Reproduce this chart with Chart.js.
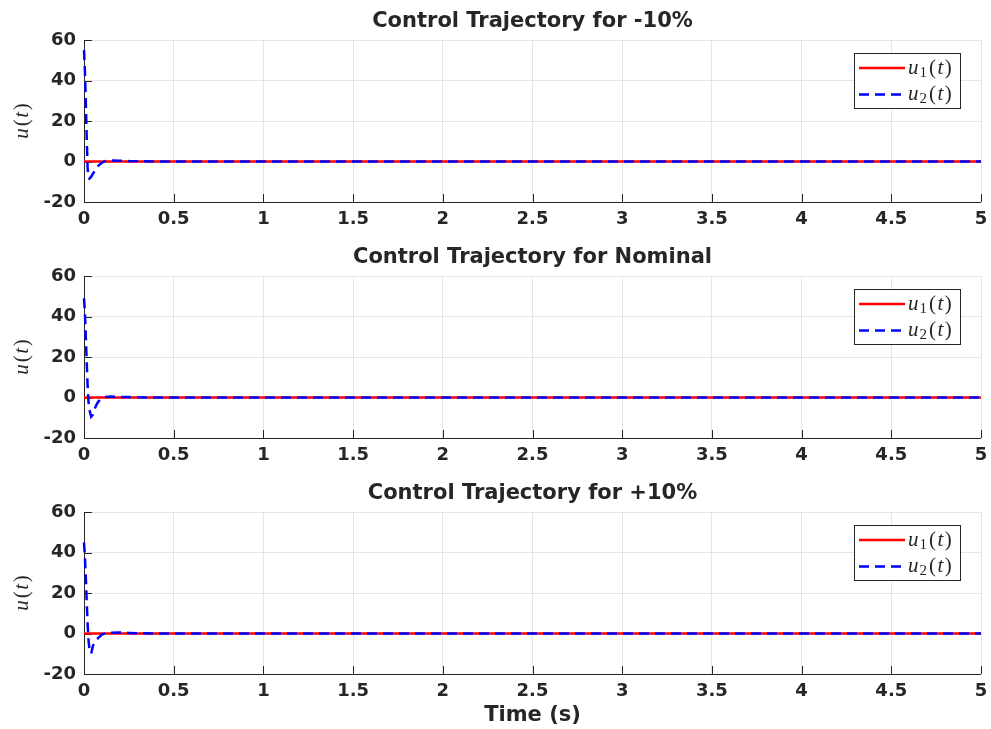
<!DOCTYPE html>
<html><head><meta charset="utf-8">
<script src="https://cdn.jsdelivr.net/npm/chart.js@4/dist/chart.umd.min.js"></script>
<style>
html,body{margin:0;padding:0;background:#fff;width:991px;height:729px;overflow:hidden;}
.p{position:absolute;left:0;width:991px;}
canvas{display:block;}
</style></head><body>
<div class="p" style="top:0;height:236px"><canvas id="c0" width="991" height="236"></canvas></div>
<div class="p" style="top:236px;height:236px"><canvas id="c1" width="991" height="236"></canvas></div>
<div class="p" style="top:472px;height:257px"><canvas id="c2" width="991" height="257"></canvas></div>
<script>
// ---- data ----
const timeS = [0, 0.005, 0.01, 0.015, 0.02, 0.025, 0.03, 0.04, 0.05, 0.06, 0.07, 0.08, 0.1, 0.12, 0.15, 0.2, 0.25, 0.3, 0.4, 0.5, 1, 2, 3, 4, 5];

const u1Minus10 = [0, 0, 0, 0, 0, 0, 0, 0, 0, 0, 0, 0, 0, 0, 0, 0, 0, 0, 0, 0, 0, 0, 0, 0, 0];
const u2Minus10 = [55, 45, 30, 12, -3, -8, -8.5, -7.5, -6, -4.5, -3, -2, -0.6, 0.2, 0.5, 0.4, 0.2, 0.1, 0, 0, 0, 0, 0, 0, 0];

const u1Nominal = [0, 0, 0, 0, 0, 0, 0, 0, 0, 0, 0, 0, 0, 0, 0, 0, 0, 0, 0, 0, 0, 0, 0, 0, 0];
const u2Nominal = [49, 42, 30, 18, 6, -2, -6, -9.5, -8.5, -5.5, -3.5, -2, -0.4, 0.3, 0.5, 0.3, 0.2, 0.1, 0, 0, 0, 0, 0, 0, 0];

const u1Plus10 = [0, 0, 0, 0, 0, 0, 0, 0, 0, 0, 0, 0, 0, 0, 0, 0, 0, 0, 0, 0, 0, 0, 0, 0, 0];
const u2Plus10 = [45, 38, 28, 16, 5, -3, -7.5, -10, -6, -4.5, -3, -2.2, -0.5, 0.1, 0.4, 0.5, 0.3, 0.1, 0, 0, 0, 0, 0, 0, 0];

const panelTitles = ['Control Trajectory for -10%', 'Control Trajectory for Nominal', 'Control Trajectory for +10%'];
const seriesNames = ['u_1(t)', 'u_2(t)'];
const xTickLabels = ['0', '0.5', '1', '1.5', '2', '2.5', '3', '3.5', '4', '4.5', '5'];
const yTickLabels = ['-20', '0', '20', '40', '60'];
const xAxisTitle = 'Time (s)';
const yAxisTitle = 'u(t)';

// ---- styling ----
const SANS = '"DejaVu Sans", Verdana, sans-serif';
const SERIF = '"Liberation Serif", "Times New Roman", serif';
const AXIS_COLOR = '#262626';
const GRID_COLOR = '#e6e6e6';

function pts(ys) { return timeS.map((t, i) => ({ x: t, y: ys[i] })); }

// draws labels like "u_1(t)" math-style; returns width
function drawMath(ctx, text, x, y, size, measureOnly) {
  const m = text.match(/^(\w)(?:_(\w))?\((\w)\)$/);
  const parts = [];
  if (m) {
    parts.push({ t: m[1], f: 'italic ' + size + 'px ' + SERIF, dy: 0 });
    if (m[2]) parts.push({ t: m[2], f: Math.round(size * 0.7) + 'px ' + SERIF, dy: size * 0.22, pad: 1 });
    parts.push({ t: '(', f: size + 'px ' + SERIF, dy: 0, pad: 2 });
    parts.push({ t: m[3], f: 'italic ' + size + 'px ' + SERIF, dy: 0, pad: 1.5 });
    parts.push({ t: ')', f: size + 'px ' + SERIF, dy: 0, pad: 1.5 });
  } else {
    parts.push({ t: text, f: size + 'px ' + SERIF, dy: 0 });
  }
  let cx = x;
  ctx.textBaseline = 'middle';
  ctx.textAlign = 'left';
  for (const p of parts) {
    ctx.font = p.f;
    if (p.pad) cx += p.pad;
    if (!measureOnly) ctx.fillText(p.t, cx, y + p.dy);
    cx += ctx.measureText(p.t).width;
  }
  return cx - x;
}

const matlabPlugin = {
  id: 'matlabDecor',
  beforeDatasetsDraw(chart) {
    const { ctx, chartArea: a, scales } = chart;
    ctx.save();
    ctx.strokeStyle = AXIS_COLOR;
    ctx.lineWidth = 1;
    ctx.beginPath();
    ctx.moveTo(a.left + 0.5, a.top);
    ctx.lineTo(a.left + 0.5, a.bottom + 0.5);
    ctx.lineTo(a.right, a.bottom + 0.5);
    ctx.stroke();
    // inward ticks
    ctx.beginPath();
    scales.x.ticks.forEach(t => {
      const px = Math.round(scales.x.getPixelForValue(t.value)) + 0.5;
      ctx.moveTo(px, a.bottom);
      ctx.lineTo(px, a.bottom - 8);
    });
    scales.y.ticks.forEach(t => {
      const py = Math.round(scales.y.getPixelForValue(t.value)) + 0.5;
      ctx.moveTo(a.left, py);
      ctx.lineTo(a.left + 8, py);
    });
    ctx.stroke();
    ctx.restore();
  },
  afterDatasetsDraw(chart, args, opts) {
    const { ctx, chartArea: a } = chart;
    ctx.save();
    // legend box
    const bx = a.right - 127, by = a.top + 13, bw = 106, bh = 55;
    ctx.fillStyle = '#fff';
    ctx.fillRect(bx, by, bw, bh);
    ctx.strokeStyle = AXIS_COLOR;
    ctx.lineWidth = 1;
    ctx.strokeRect(bx + 0.5, by + 0.5, bw, bh);
    chart.data.datasets.forEach((ds, i) => {
      const y = by + 15 + i * 26.5;
      ctx.strokeStyle = ds.borderColor;
      ctx.lineWidth = ds.borderWidth;
      ctx.setLineDash(ds.borderDash || []);
      ctx.beginPath();
      ctx.moveTo(bx + 5, y);
      ctx.lineTo(bx + 51, y);
      ctx.stroke();
      ctx.setLineDash([]);
      ctx.fillStyle = AXIS_COLOR;
      drawMath(ctx, ds.label, bx + 54, y, 21);
    });
    // title
    ctx.fillStyle = AXIS_COLOR;
    ctx.font = 'bold 21px ' + SANS;
    ctx.textAlign = 'center';
    ctx.textBaseline = 'middle';
    ctx.fillText(opts.title, (a.left + a.right) / 2, a.top - 18);
    // y-axis title (rotated)
    ctx.save();
    ctx.translate(22, (a.top + a.bottom) / 2);
    ctx.rotate(-Math.PI / 2);
    const w = drawMath(ctx, yAxisTitle, 0, 0, 21, true);
    drawMath(ctx, yAxisTitle, -w / 2, 0, 21);
    ctx.restore();
    // x-axis title
    if (opts.showXTitle) {
      ctx.font = 'bold 21px ' + SANS;
      ctx.textAlign = 'center';
      ctx.textBaseline = 'middle';
      ctx.fillText(xAxisTitle, (a.left + a.right) / 2, a.bottom + 42);
    }
    ctx.restore();
  }
};

function makeChart(id, title, u1, u2, canvasH, showXTitle) {
  const tickFont = { family: SANS, size: 18, weight: 'bold' };
  return new Chart(document.getElementById(id), {
    type: 'line',
    data: {
      datasets: [
        { label: seriesNames[0], data: pts(u1), borderColor: '#ff0000', borderWidth: 2.5, pointRadius: 0, tension: 0, order: 1, clip: false },
        { label: seriesNames[1], data: pts(u2), borderColor: '#0000ff', borderWidth: 2.5, borderDash: [10, 6], pointRadius: 0, tension: 0, order: 0, clip: false }
      ]
    },
    options: {
      responsive: false,
      animation: false,
      devicePixelRatio: 1,
      layout: { padding: { top: 40, left: 0, right: 10, bottom: canvasH - 202 - 30 } },
      plugins: {
        legend: { display: false },
        tooltip: { enabled: false },
        title: { display: false },
        matlabDecor: { title: title, showXTitle: showXTitle }
      },
      scales: {
        x: {
          type: 'linear', min: 0, max: 5,
          ticks: { stepSize: 0.5, autoSkip: false, maxRotation: 0, padding: 7, color: AXIS_COLOR, font: tickFont,
                   callback: (v, i) => xTickLabels[i] },
          grid: { color: GRID_COLOR, lineWidth: 1, drawTicks: false },
          border: { display: false },
          afterFit(s) { s.height = 30; s.paddingLeft = 0; s.paddingRight = 0; }
        },
        y: {
          type: 'linear', min: -20, max: 60,
          ticks: { stepSize: 20, padding: 8, color: AXIS_COLOR, font: tickFont,
                   callback: (v, i) => yTickLabels[i] },
          grid: { color: GRID_COLOR, lineWidth: 1, drawTicks: false },
          border: { display: false },
          afterFit(s) { s.width = 84; s.paddingTop = 0; s.paddingBottom = 0; }
        }
      }
    },
    plugins: [matlabPlugin]
  });
}

makeChart('c0', panelTitles[0], u1Minus10, u2Minus10, 236, false);
makeChart('c1', panelTitles[1], u1Nominal, u2Nominal, 236, false);
makeChart('c2', panelTitles[2], u1Plus10, u2Plus10, 257, true);
</script>
</body></html>
